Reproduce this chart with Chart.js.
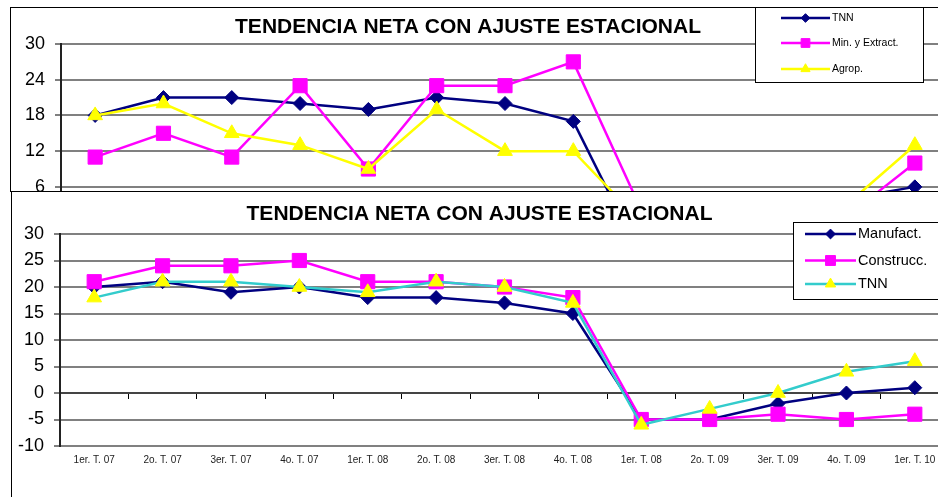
<!DOCTYPE html>
<html>
<head>
<meta charset="utf-8">
<script src="https://cdn.jsdelivr.net/npm/chart.js@4.4.1/dist/chart.umd.min.js"></script>
<style>
  html, body { margin:0; padding:0; background:#fff; }
  #wrap { position:relative; width:938px; height:497px; overflow:hidden; background:#fff; }
  #topFrame { position:absolute; left:10px; top:7px; width:1000px; height:184px; border-left:1px solid #000; border-top:1px solid #000; }
  #topChart { position:absolute; left:0; top:0; }
  #cover { position:absolute; left:11px; top:191px; width:1000px; height:400px; background:#fff; border-left:1px solid #000; border-top:1px solid #000; }
  #botChart { position:absolute; left:0; top:191px; }
</style>
</head>
<body>
<div id="wrap">
  <div id="topFrame"></div>
  <canvas id="topChart" width="960" height="330"></canvas>
  <div id="cover"></div>
  <canvas id="botChart" width="960" height="310"></canvas>
</div>
<script>
const labels = ['1er. T. 07','2o. T. 07','3er. T. 07','4o. T. 07','1er. T. 08','2o. T. 08',
  '3er. T. 08','4o. T. 08','1er. T. 08','2o. T. 09','3er. T. 09','4o. T. 09','1er. T. 10'];
const titleText = 'TENDENCIA NETA CON AJUSTE ESTACIONAL';

// top chart (partly hidden under the second one)
const tnnTop = [18, 21, 21, 20, 19, 21, 20, 17, -6, -3, 0, 4, 6];
const minExtract = [11, 15, 11, 23, 9, 23, 23, 27, 2, -1, 0, 1, 10];
const agrop = [18, 20, 15, 13, 9, 19, 12, 12, 0, -2, 1, 3, 13];
const topMin = -12, topMax = 30, topStep = 6;

// bottom chart
const manufact = [20, 21, 19, 20, 18, 18, 17, 15, -5, -5, -2, 0, 1];
const construcc = [21, 24, 24, 25, 21, 21, 20, 18, -5, -5, -4, -5, -4];
const tnn = [18, 21, 21, 20, 19, 21, 20, 17, -6, -3, 0, 4, 6];
const botMin = -10, botMax = 30, botStep = 5;

const NAVY = '#000080', MAGENTA = '#FF00FF', YELLOW = '#FFFF00', TURQ = '#33CCCC';
const FONT = 'Arial, "Liberation Sans", sans-serif';

function series(label, data, line, marker, style, radius, order) {
  return {
    label: label, data: data, order: order,
    borderColor: line, backgroundColor: marker, borderWidth: 2.5,
    pointStyle: style, pointRadius: radius, pointHoverRadius: radius,
    pointBackgroundColor: marker, pointBorderColor: marker, pointBorderWidth: 1,
    tension: 0
  };
}

// title + boxed legend, Excel style
const decor = {
  id: 'decor',
  afterDraw(chart, args, o) {
    const ctx = chart.ctx;
    ctx.save();
    ctx.fillStyle = '#000';
    ctx.font = 'bold 21px ' + FONT;
    ctx.textAlign = 'center';
    ctx.textBaseline = 'middle';
    ctx.fillText(titleText, o.titleX, o.titleY);

    const b = o.box;
    ctx.fillStyle = '#fff';
    ctx.fillRect(b.x, b.y, b.w, b.h);
    ctx.strokeStyle = '#000';
    ctx.lineWidth = 1;
    ctx.strokeRect(b.x + 0.5, b.y + 0.5, b.w, b.h);

    chart.data.datasets.forEach((ds, i) => {
      const y = o.rows[i];
      ctx.strokeStyle = ds.borderColor;
      ctx.lineWidth = 2.5;
      ctx.beginPath();
      ctx.moveTo(o.x0, y);
      ctx.lineTo(o.x1, y);
      ctx.stroke();
      ctx.fillStyle = ds.pointBackgroundColor;
      ctx.strokeStyle = ds.pointBorderColor;
      ctx.lineWidth = 1;
      Chart.helpers.drawPoint(ctx, {
        pointStyle: ds.pointStyle, rotation: 0, borderWidth: 1,
        radius: ds.pointRadius * o.markScale
      }, (o.x0 + o.x1) / 2, y);
      ctx.fillStyle = '#000';
      ctx.font = o.font;
      ctx.textAlign = 'left';
      ctx.fillText(ds.label, o.x1 + 2, y);
    });
    ctx.restore();
  }
};

function scalesFor(min, max, step, axisWidth) {
  return {
    x: {
      type: 'category', offset: true,
      grid: { display: false, drawTicks: false },
      border: { display: false },
      ticks: { font: { size: 10, family: FONT }, color: '#222', padding: 8, maxRotation: 0, autoSkip: false },
      afterFit(s) { s.height = 20; }
    },
    x0: {
      type: 'category', position: { y: 0 }, offset: true,
      grid: { drawOnChartArea: false, drawTicks: true, tickLength: 5, tickColor: '#000', tickWidth: 1, offset: true },
      border: { color: '#444', width: 2 },
      ticks: { display: false }
    },
    y: {
      min: min, max: max,
      ticks: { stepSize: step, font: { size: 18, family: FONT }, color: '#000', padding: 10 },
      grid: { color: '#808080', lineWidth: 2, tickLength: 6, tickColor: '#000', tickWidth: 1 },
      border: { color: '#222', width: 2 },
      afterFit(s) { s.width = axisWidth; }
    }
  };
}

new Chart(document.getElementById('topChart'), {
  type: 'line',
  data: {
    labels: labels,
    datasets: [
      series('TNN', tnnTop, NAVY, NAVY, 'rectRot', 7, 3),
      series('Min. y Extract.', minExtract, MAGENTA, MAGENTA, 'rect', 10, 2),
      series('Agrop.', agrop, YELLOW, YELLOW, 'triangle', 8.5, 1)
    ]
  },
  options: {
    responsive: false, animation: false,
    layout: { padding: { top: 44, left: 0, right: 8.5, bottom: 16 } },
    scales: scalesFor(topMin, topMax, topStep, 61),
    plugins: {
      legend: { display: false }, tooltip: { enabled: false },
      decor: {
        titleX: 468, titleY: 27.5,
        box: { x: 755, y: 7, w: 168, h: 75 },
        rows: [18, 43, 69], x0: 781, x1: 830,
        markScale: 0.62, font: '10.5px ' + FONT
      }
    }
  },
  plugins: [decor]
});

new Chart(document.getElementById('botChart'), {
  type: 'line',
  data: {
    labels: labels,
    datasets: [
      series('Manufact.', manufact, NAVY, NAVY, 'rectRot', 7, 3),
      series('Construcc.', construcc, MAGENTA, MAGENTA, 'rect', 10, 2),
      series('TNN', tnn, TURQ, YELLOW, 'triangle', 8.5, 1)
    ]
  },
  options: {
    responsive: false, animation: false,
    layout: { padding: { top: 43, left: 0, right: 11, bottom: 35 } },
    scales: scalesFor(botMin, botMax, botStep, 60),
    plugins: {
      legend: { display: false }, tooltip: { enabled: false },
      decor: {
        titleX: 479.5, titleY: 23,
        box: { x: 793, y: 31, w: 200, h: 77 },
        rows: [43, 69.5, 93], x0: 805, x1: 856,
        markScale: 0.7, font: '14.5px ' + FONT
      }
    }
  },
  plugins: [decor]
});
</script>
</body>
</html>
